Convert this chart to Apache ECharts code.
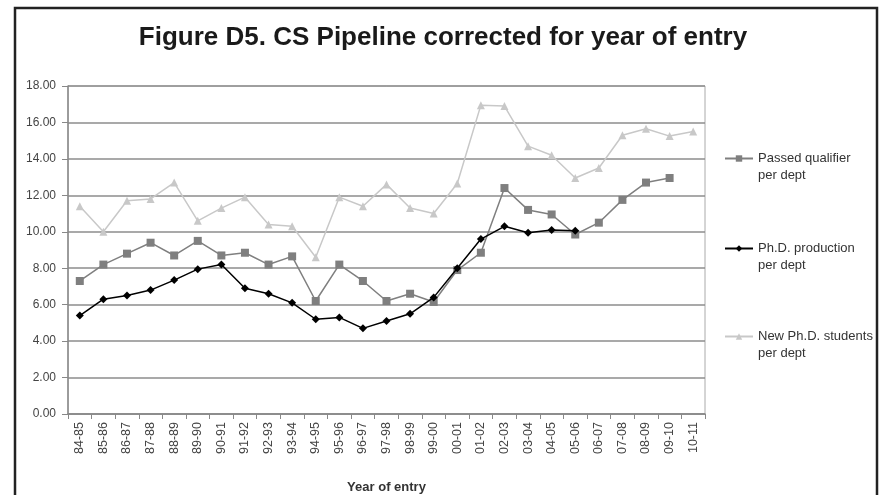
<!DOCTYPE html>
<html>
<head>
<meta charset="utf-8">
<script src="https://cdn.jsdelivr.net/npm/echarts@6/dist/echarts.min.js"></script>
<style>
  html, body { margin: 0; padding: 0; background: #fff; }
  #chart { width: 886px; height: 495px; }
</style>
</head>
<body>
<div id="chart"></div>
<script>
// year of entry
const years = ['84-85', '85-86', '86-87', '87-88', '88-89', '89-90', '90-91', '91-92', '92-93',
  '93-94', '94-95', '95-96', '96-97', '97-98', '98-99', '99-00', '00-01', '01-02', '02-03',
  '03-04', '04-05', '05-06', '06-07', '07-08', '08-09', '09-10', '10-11'];

const passedQualifier = [7.3, 8.2, 8.8, 9.4, 8.7, 9.5, 8.7, 8.85, 8.2, 8.65, 6.2, 8.2, 7.3,
  6.2, 6.6, 6.15, 7.9, 8.85, 12.4, 11.2, 10.95, 9.85, 10.5, 11.75, 12.7, 12.95, '-'];

const phdProduction = [5.4, 6.3, 6.5, 6.8, 7.35, 7.95, 8.2, 6.9, 6.6, 6.1, 5.2, 5.3, 4.7,
  5.1, 5.5, 6.4, 8.0, 9.6, 10.3, 9.95, 10.1, 10.05, '-', '-', '-', '-', '-'];

const newStudents = [11.4, 10.0, 11.7, 11.8, 12.7, 10.6, 11.3, 11.9, 10.4, 10.3, 8.6, 11.9, 11.4,
  12.6, 11.3, 11.0, 12.65, 16.95, 16.9, 14.7, 14.2, 12.95, 13.5, 15.3, 15.65, 15.25, 15.5];

const seriesNames = ['Passed qualifier\nper dept', 'Ph.D. production\nper dept', 'New Ph.D. students\nper dept'];

const chart = echarts.init(document.getElementById('chart'));

// one legend per entry so each can sit where the original puts it
const legendTop = [128, 218, 306];
const legends = seriesNames.map((name, i) => ({
  data: [name],
  left: 719,
  top: legendTop[i],
  orient: 'vertical',
  itemWidth: 28,
  itemHeight: 8,
  selectedMode: false,
  // blank first line so the icon lines up with the first text line
  formatter: n => '\n' + n,
  textStyle: {
    fontFamily: 'Liberation Sans',
    fontSize: 13,
    color: '#333',
    lineHeight: 17
  }
}));

chart.setOption({
  animation: false,
  backgroundColor: '#fff',
  title: {
    text: 'Figure D5. CS Pipeline corrected for year of entry',
    left: 'center',
    top: 20,
    textStyle: {
      fontFamily: 'Liberation Sans',
      fontWeight: 'bold',
      fontSize: 26,
      color: '#1a1a1a'
    }
  },
  graphic: [
    {
      type: 'rect',
      shape: { x: 15, y: 8, width: 862, height: 520 },
      style: { fill: 'none', stroke: '#222', lineWidth: 2.5 },
      silent: true
    }
  ],
  legend: legends,
  grid: {
    left: 68,
    top: 86,
    right: 181,
    bottom: 81,
    outerBoundsMode: 'none',
    containLabel: false,
    show: true,
    borderColor: '#aaa',
    borderWidth: 1
  },
  xAxis: {
    type: 'category',
    data: years,
    boundaryGap: true,
    name: 'Year of entry',
    nameLocation: 'middle',
    nameGap: 67,
    nameTextStyle: {
      fontFamily: 'Liberation Sans',
      fontWeight: 'bold',
      fontSize: 13,
      color: '#333'
    },
    axisLine: { lineStyle: { color: '#888', width: 1.5 } },
    axisTick: { show: true, length: 5, lineStyle: { color: '#888' } },
    axisLabel: {
      interval: 0,
      rotate: 90,
      margin: 8,
      fontFamily: 'Liberation Sans',
      fontSize: 12.5,
      color: '#444'
    }
  },
  yAxis: {
    type: 'value',
    min: 0,
    max: 18,
    interval: 2,
    axisLine: { show: true, lineStyle: { color: '#888', width: 1.5 } },
    axisTick: { show: true, length: 6, lineStyle: { color: '#888' } },
    axisLabel: {
      formatter: v => v.toFixed(2),
      margin: 12,
      fontFamily: 'Liberation Sans',
      fontSize: 12,
      color: '#444'
    },
    splitLine: { lineStyle: { color: '#8c8c8c', width: 1.5 } }
  },
  series: [
    {
      name: seriesNames[0],
      type: 'line',
      data: passedQualifier,
      symbol: 'rect',
      symbolSize: 8,
      color: '#7f7f7f',
      lineStyle: { color: '#7f7f7f', width: 1.5 },
      itemStyle: { color: '#7f7f7f' },
      z: 3
    },
    {
      name: seriesNames[1],
      type: 'line',
      data: phdProduction,
      symbol: 'diamond',
      symbolSize: 8,
      color: '#000',
      lineStyle: { color: '#000', width: 1.5 },
      itemStyle: { color: '#000' },
      z: 4
    },
    {
      name: seriesNames[2],
      type: 'line',
      data: newStudents,
      symbol: 'triangle',
      symbolSize: 8,
      color: '#c8c8c8',
      lineStyle: { color: '#c8c8c8', width: 1.5 },
      itemStyle: { color: '#c8c8c8' },
      z: 2
    }
  ]
});
</script>
</body>
</html>
